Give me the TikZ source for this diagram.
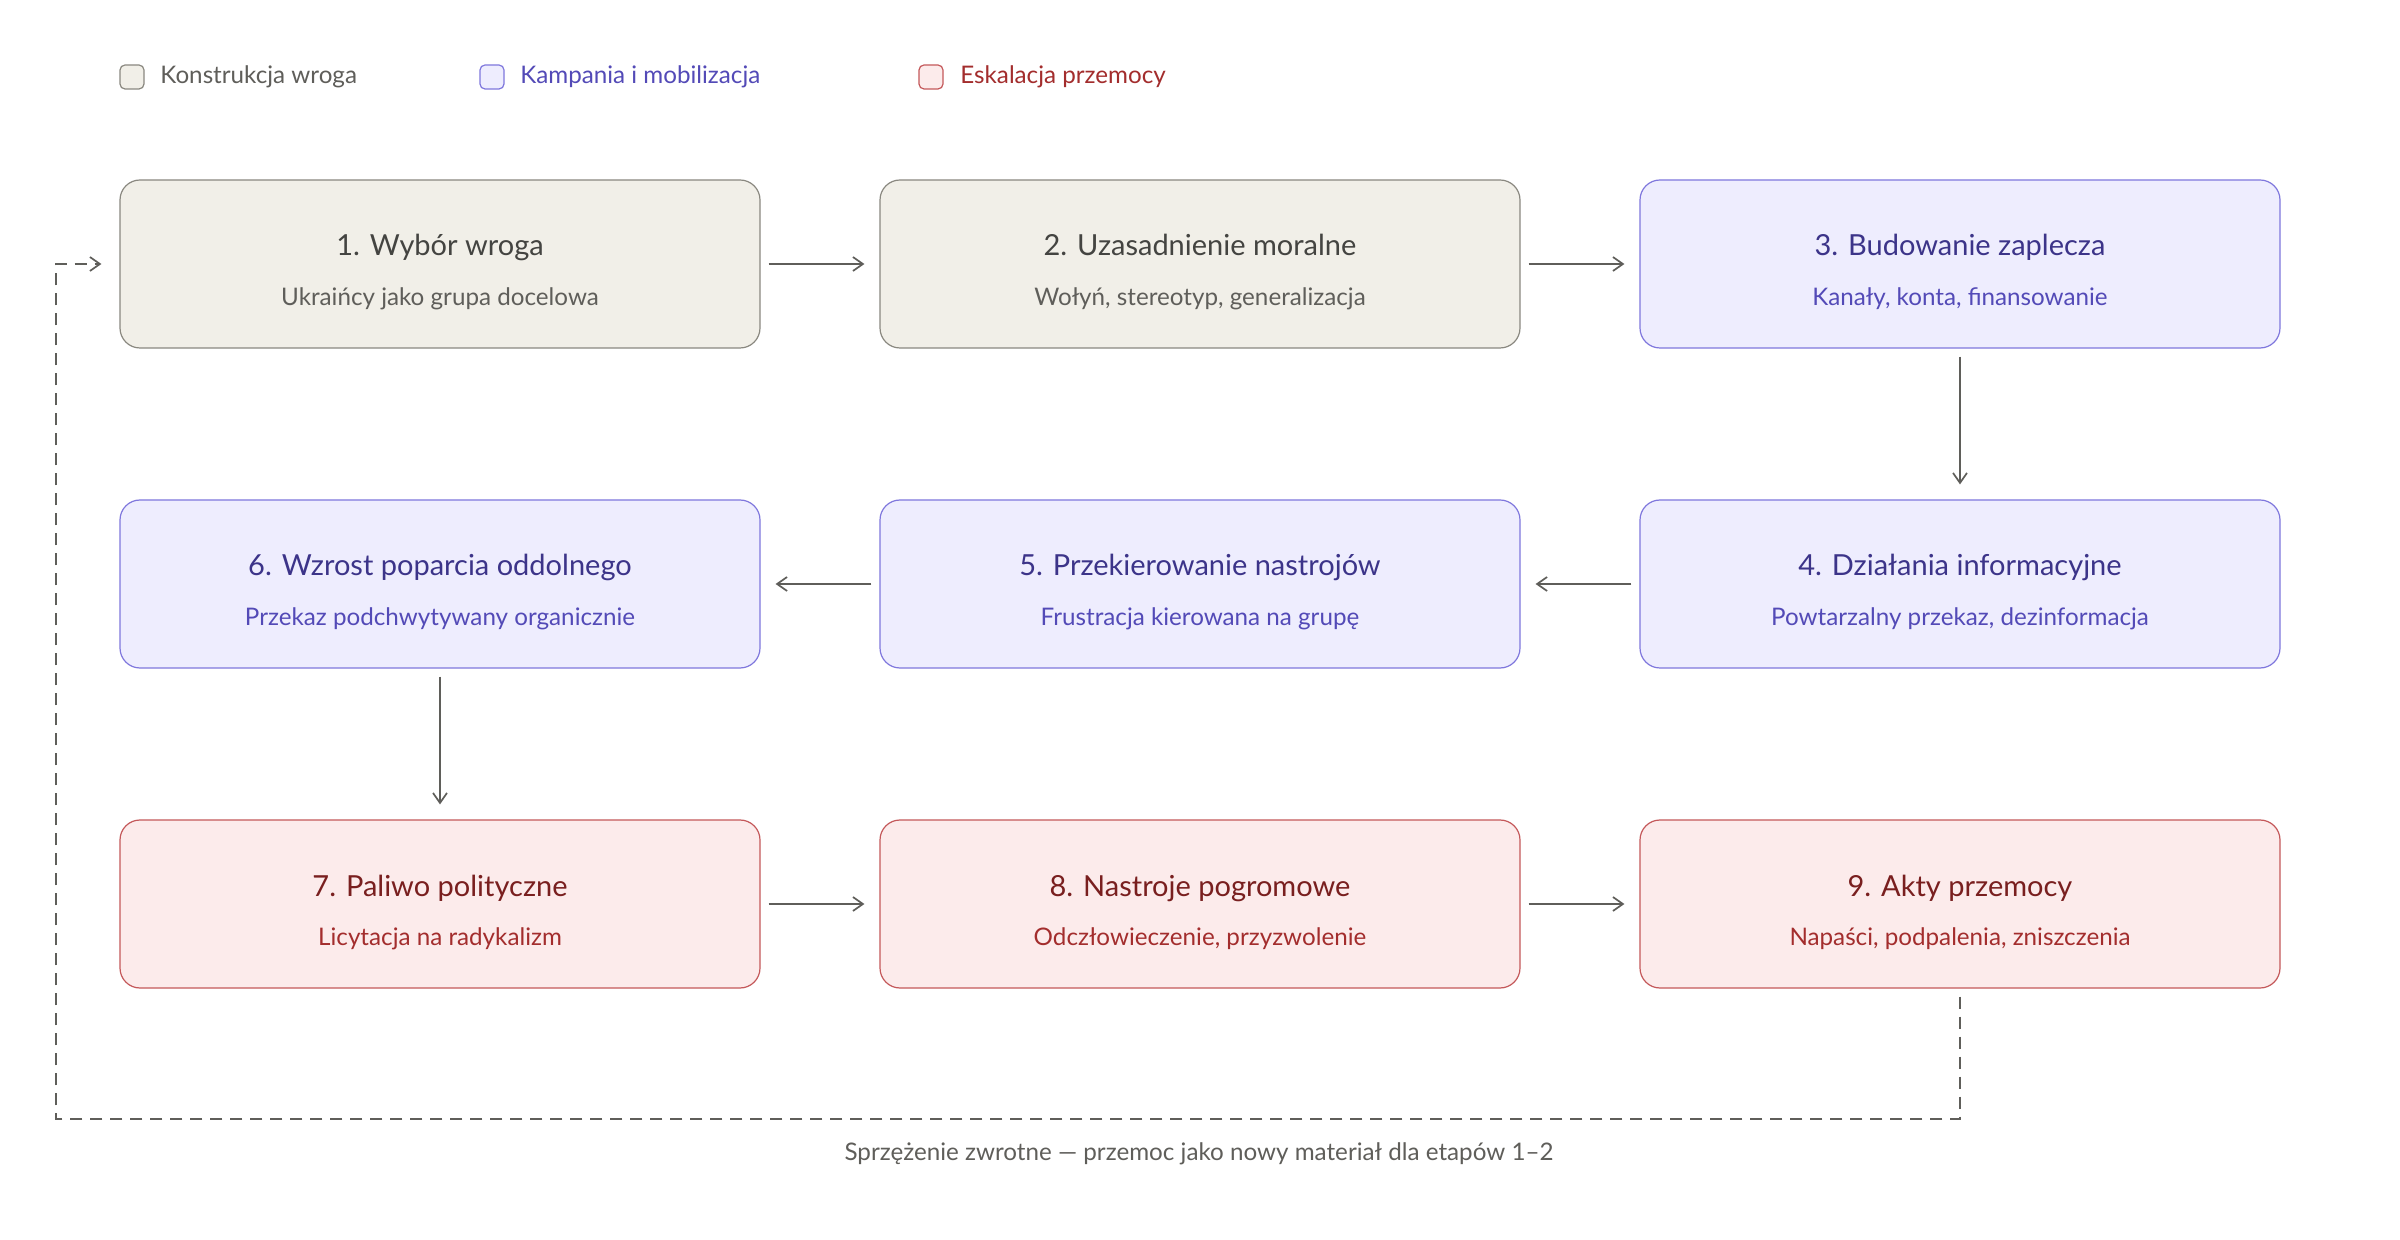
\documentclass[tikz,border=0pt]{standalone}
\usepackage{fontspec}
\setmainfont{Lato}
\usetikzlibrary{arrows.meta}
\definecolor{gfill}{HTML}{F1EFE8}
\definecolor{gline}{HTML}{8A8880}
\definecolor{gtitle}{HTML}{444441}
\definecolor{gsub}{HTML}{5F5E5A}
\definecolor{pfill}{HTML}{EEEDFE}
\definecolor{pline}{HTML}{7F77DD}
\definecolor{ptitle}{HTML}{3C3489}
\definecolor{psub}{HTML}{534AB7}
\definecolor{rfill}{HTML}{FCEBEB}
\definecolor{rline}{HTML}{C4585A}
\definecolor{rtitle}{HTML}{791F1F}
\definecolor{rsub}{HTML}{A32D2D}
\definecolor{arrowc}{HTML}{5F5E5A}
\tikzset{
  box/.style={rectangle, rounded corners=10pt, minimum width=320pt, minimum height=84pt, line width=0.6pt, inner sep=0pt},
  gbox/.style={box, fill=gfill, draw=gline},
  pbox/.style={box, fill=pfill, draw=pline},
  rbox/.style={box, fill=rfill, draw=rline},
  ttl/.style={font=\fontsize{14.5}{17}\selectfont, inner sep=0pt, anchor=base},
  subt/.style={font=\fontsize{12.1}{14}\selectfont, inner sep=0pt, anchor=base},
  legsq/.style={rectangle, rounded corners=2.5pt, minimum width=12pt, minimum height=12pt, line width=0.6pt, inner sep=0pt},
  legtx/.style={font=\fontsize{12.1}{14}\selectfont, inner sep=0pt, anchor=mid west},
  arr/.style={draw=arrowc, line width=0.85pt, -{Straight Barb[length=5pt,width=7pt,line width=0.85pt]}, shorten <=4pt, shorten >=7.5pt},
  fb/.style={draw=arrowc, line width=0.85pt, dash pattern=on 6pt off 4pt, -{Straight Barb[length=5pt,width=7pt,line width=0.85pt]}}
}
\newcommand\stagebox[8]{%
  \node[#4] (#1) at (#2,#3) {};
  \node[ttl, text=#7] (#1t) at ([yshift=4pt]#1.center) {#5};
  \node[subt, text=#8] (#1s) at ([yshift=-20.8pt]#1.center) {#6};
}
\begin{document}
\begin{tikzpicture}[x=0.5pt,y=-0.5pt]
\useasboundingbox[fill=white] (0,0) rectangle (2400,1240);
% legend
\node[legsq, fill=gfill, draw=gline] (l1) at (132,77) {};
\node[legtx, text=gsub] (l1t) at (160,78) {Konstrukcja wroga};
\node[legsq, fill=pfill, draw=pline] (l2) at (492,77) {};
\node[legtx, text=psub] (l2t) at (520,78) {Kampania i mobilizacja};
\node[legsq, fill=rfill, draw=rline] (l3) at (931,77) {};
\node[legtx, text=rsub] (l3t) at (960,78) {Eskalacja przemocy};
% stages
\stagebox{b1}{440}{264}{gbox}{1. Wybór wroga}{Ukraińcy jako grupa docelowa}{gtitle}{gsub}
\stagebox{b2}{1200}{264}{gbox}{2. Uzasadnienie moralne}{Wołyń, stereotyp, generalizacja}{gtitle}{gsub}
\stagebox{b3}{1960}{264}{pbox}{3. Budowanie zaplecza}{Kanały, konta, finansowanie}{ptitle}{psub}
\stagebox{b4}{1960}{584}{pbox}{4. Działania informacyjne}{Powtarzalny przekaz, dezinformacja}{ptitle}{psub}
\stagebox{b5}{1200}{584}{pbox}{5. Przekierowanie nastrojów}{Frustracja kierowana na grupę}{ptitle}{psub}
\stagebox{b6}{440}{584}{pbox}{6. Wzrost poparcia oddolnego}{Przekaz podchwytywany organicznie}{ptitle}{psub}
\stagebox{b7}{440}{904}{rbox}{7. Paliwo polityczne}{Licytacja na radykalizm}{rtitle}{rsub}
\stagebox{b8}{1200}{904}{rbox}{8. Nastroje pogromowe}{Odczłowieczenie, przyzwolenie}{rtitle}{rsub}
\stagebox{b9}{1960}{904}{rbox}{9. Akty przemocy}{Napaści, podpalenia, zniszczenia}{rtitle}{rsub}
% arrows
\draw[arr] (b1.east) -- (b2.west);
\draw[arr] (b2.east) -- (b3.west);
\draw[arr] (b3.south) -- (b4.north);
\draw[arr] (b4.west) -- (b5.east);
\draw[arr] (b5.west) -- (b6.east);
\draw[arr] (b6.south) -- (b7.north);
\draw[arr] (b7.east) -- (b8.west);
\draw[arr] (b8.east) -- (b9.west);
% feedback
\coordinate (fbA) at (1960,1119);
\coordinate (fbB) at (56,1119);
\draw[fb, shorten >=9pt] ([yshift=-4pt]b9.south) -- (fbA) -- (fbB) |- (b1.west);
\node[subt, text=gsub, anchor=center] (cap) at (1199,1154) {Sprzężenie zwrotne — przemoc jako nowy materiał dla etapów 1–2};
\end{tikzpicture}
\end{document}
